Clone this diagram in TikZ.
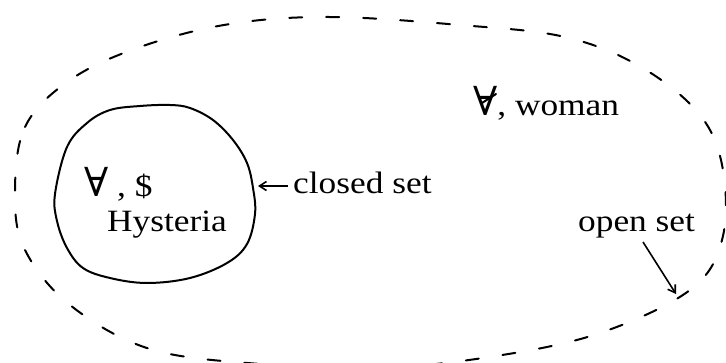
\documentclass[tikz,border=0pt]{standalone}
\usepackage{fontspec}
\setmainfont{Liberation Serif}[FakeStretch=1.14]
\newfontfamily\symf{DejaVu Serif}
\newcommand{\bigall}{{\symf\fontsize{40}{40}\selectfont ∀}}
\usetikzlibrary{arrows.meta}
\tikzset{
  lbl/.style={inner sep=0pt, anchor=base west, font=\fontsize{31}{36}\selectfont},
  openline/.style={line width=2pt, dash pattern=on 13pt off 24pt, line cap=round},
  closedline/.style={line width=2pt},
  pointer/.style={line width=1.6pt, -{Straight Barb[length=7pt,width=9pt]}},
  glyphbar/.style={line width=2pt, line cap=round}
}
\begin{document}
\begin{tikzpicture}[x=1pt,y=-1pt]
\useasboundingbox (0,0) rectangle (726,362);
\clip (0,0) rectangle (726,362);
% open set (dashed oval)
\draw[openline] plot[smooth cycle, tension=0.6] coordinates {
 (15,195) (25,127) (70,80) (140,47) (230,24) (330,17) (460,25) (565,37)
 (641,67) (700,115) (723,170) (722,240) (690,290) (600,333) (496,356)
 (380,368) (260,364) (150,349) (70,305) (25,250)};
% closed set (solid curve)
\draw[closedline] plot[smooth cycle, tension=0.6] coordinates {
 (55,194) (67,147) (87,123) (110,110) (140,106) (170,105) (190,108)
 (213,120) (233,140) (247,163) (253,188) (255,214) (247,244) (227,263)
 (190,278) (147,283) (110,278) (83,268) (67,248) (57,221)};
% texts
\node[lbl] (allS) at (84,196) {\bigall\ , \$};
\node[lbl] (hyst) at (107,231) {Hysteria};
\node[lbl] (closed) at (293,193) {closed set};
\node[lbl] (woman) at (473,115) {\bigall, woman};
\node[lbl] (open) at (578,231) {open set};
% bar of the barred quantifier
\draw[glyphbar] ([shift={(9,-12)}]woman.base west) -- ++(14,-9);
% pointers
\coordinate (closedtail) at (288,186);
\coordinate (closedtip) at (258,186);
\coordinate (opentail) at (643,242);
\coordinate (opentip) at (676,294);
\draw[pointer] (closedtail) -- (closedtip);
\draw[pointer] (opentail) -- (opentip);
\end{tikzpicture}
\end{document}
